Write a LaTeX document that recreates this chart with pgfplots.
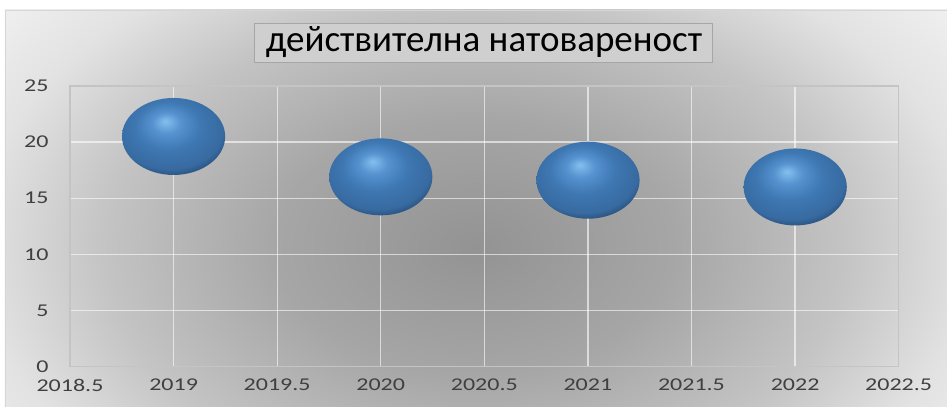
\documentclass[border=0pt]{standalone}
\usepackage{pgfplots}
\pgfplotsset{compat=1.18}
\usepackage{fontspec}
\setmainfont{Carlito}

\definecolor{tickgray}{HTML}{404040}
\definecolor{framegray}{HTML}{C4C4C4}
\definecolor{sphhl}{HTML}{84C0EE}
\definecolor{sphmid}{HTML}{5592CF}
\definecolor{sphbase}{HTML}{3E77B2}
\definecolor{sphdark}{HTML}{22446B}
\definecolor{bgc0}{HTML}{939393}
\definecolor{bgc1}{HTML}{A6A6A6}
\definecolor{bgc2}{HTML}{C4C4C4}
\definecolor{bgc3}{HTML}{E2E2E2}
\definecolor{bgc4}{HTML}{F2F2F2}

% sphere look for the bubbles
\pgfdeclareradialshading{sphere}{\pgfqpoint{-4bp}{10bp}}{%
  color(0bp)=(sphhl); color(7bp)=(sphmid); color(16bp)=(sphbase);
  color(26bp)=(sphbase!75!sphdark); color(32bp)=(sphdark); color(50bp)=(sphdark)}
\pgfdeclareradialshading{chartbg}{\pgfqpoint{0bp}{0bp}}{%
  color(0bp)=(bgc0); color(8bp)=(bgc1); color(15bp)=(bgc2);
  color(20bp)=(bgc3); color(25bp)=(bgc4); color(50bp)=(bgc4)}
\pgfdeclareplotmark{sphere}{%
  \pgfpathellipse{\pgfpointorigin}{\pgfqpoint{1.34\pgfplotmarksize}{0pt}}{\pgfqpoint{0pt}{\pgfplotmarksize}}%
  \pgfshadepath{sphere}{0}%
  \pgfusepath{}}

\begin{document}
\begin{tikzpicture}[x=1pt,y=1pt]
\fill[white] (0,0) rectangle (947,407);
\begin{scope}
  \clip (5,0) rectangle (947,397);
  \fill[bgc4] (5,0) rectangle (947,397);
  \shade[shading=chartbg] (475,160) ellipse [x radius=620, y radius=400];
\end{scope}
\draw[framegray!70!white] (5.5,0) -- (5.5,396.5) -- (947,396.5);

\begin{axis}[
    at={(70pt,40.5pt)}, anchor=south west,
    scale only axis,
    width=829pt, height=280.5pt,
    xmin=2018.5, xmax=2022.5,
    ymin=0, ymax=25,
    xtick={2018.5,2019,...,2022.5},
    ytick={0,5,...,25},
    major tick length=0pt,
    axis line style={framegray, line width=1.3pt},
    grid=major,
    grid style={white, opacity=0.6, line width=1.2pt},
    /pgf/number format/.cd, 1000 sep={}, assume math mode=true,
    /pgfplots/.cd,
    ticklabel style={font=\fontsize{24}{25}\selectfont, text=tickgray, yscale=0.75},
    yticklabel style={xshift=-18pt},
    xticklabel style={yshift=-13pt},
    clip=false,
]
\addplot[only marks, mark=sphere, mark size=38.5pt]
  coordinates {(2019,20.5) (2020,16.9) (2021,16.6) (2022,16.0)};
\end{axis}

\node[draw=black!35, fill=black!19, line width=1pt, minimum width=458pt, minimum height=39pt,
      inner sep=0pt] at (484,363.5) {};
\node[font=\fontsize{37}{40}\selectfont] at (484,365) {действителна натовареност};
\end{tikzpicture}
\end{document}
